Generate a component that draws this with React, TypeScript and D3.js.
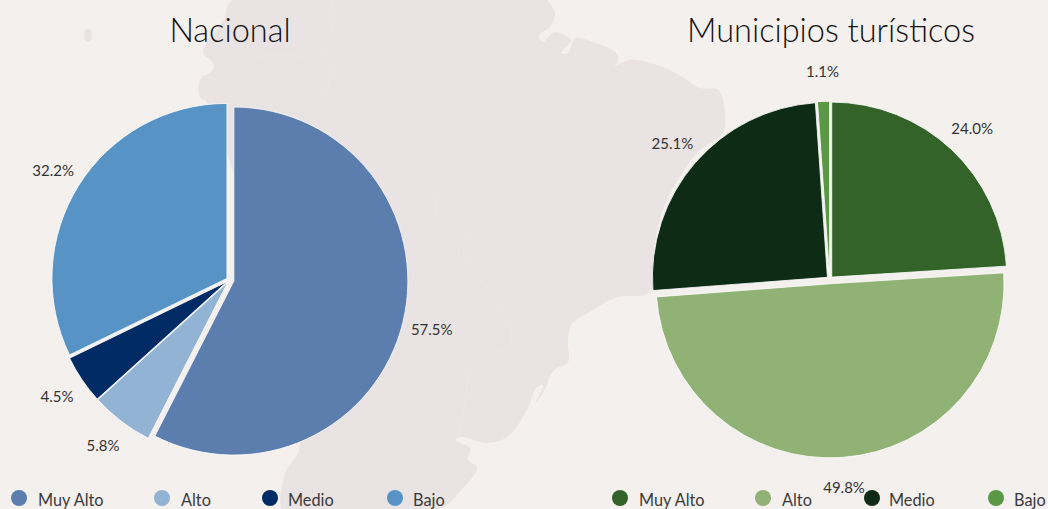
import React from "react";
import * as d3 from "d3";

const categories = ["Muy Alto", "Alto", "Medio", "Bajo"];
const nacionalValues = [57.5, 5.8, 4.5, 32.2];
const turisticosValues = [24.0, 49.8, 25.1, 1.1];
const nacionalColors = ["#5b7eae", "#93b3d4", "#002b64", "#5893c5"];
const turisticosColors = ["#336329", "#90b375", "#0e2c15", "#5a9845"];

const W = 1048;
const H = 509;
const BG = "#f4f0ee";
const LAND = "#e9e3e3";
const R = 175;
const EXPLODE = 3;
const BIG_R = 174;
const BIG_EXPLODE = 4.5;
const LABEL_R = 208;
const FONT = "Lato, 'Noto Sans', sans-serif";

const mapOutline: [number, number][] = [
  [240, -5], [228, 5], [225, 17], [217, 30], [207, 43], [203, 53], [213, 63], [213, 70], [200, 80], [200, 97], [207, 103],
  [300, 443], [284, 477], [285, 515], [430, 515], [464, 487], [477, 467], [468, 460], [470, 448], [455, 440], [461, 437],
  [486, 443], [507, 437], [527, 410], [536, 388], [543, 385], [536, 402], [543, 393], [554, 370], [568, 362], [568, 343],
  [571, 325], [593, 310], [618, 297], [645, 295], [653, 287], [654, 250], [664, 207], [682, 173], [700, 150], [723, 133],
  [725, 113], [718, 90], [700, 88], [679, 75], [657, 65], [629, 60], [614, 67], [618, 62], [616, 53], [593, 42], [575, 38],
  [568, 53], [561, 53], [571, 40], [554, 32], [543, 42], [539, 35], [550, 27], [555, 13], [543, -5],
];
const borderLines: [number, number][][] = [
  [[378, 143], [400, 173], [432, 190], [439, 217], [464, 227], [464, 257], [486, 287], [504, 310], [511, 343], [475, 363], [465, 400], [460, 437]],
  [[203, 75], [225, 85], [250, 60], [290, 55], [330, 70]],
  [[330, 0], [335, 20], [325, 45], [330, 70], [325, 100]],
];

const mapLine = d3.line().curve(d3.curveCatmullRom.alpha(0.5));

function Pie({ cx, cy, values, colors }: { cx: number; cy: number; values: number[]; colors: string[] }) {
  const arcs = d3.pie<number>().sort(null)(values);
  const largest = d3.max(values) as number;
  const arc = d3.arc<d3.PieArcDatum<number>>().innerRadius(0);
  return (
    <g>
      {arcs.map((a, i) => {
        const mid = (a.startAngle + a.endAngle) / 2;
        const big = values[i] === largest;
        const e = big ? BIG_EXPLODE : EXPLODE;
        const dx = Math.sin(mid) * e;
        const dy = -Math.cos(mid) * e;
        return (
          <path
            key={i}
            d={arc.outerRadius(big ? BIG_R : R)(a) as string}
            transform={`translate(${cx + dx},${cy + dy})`}
            fill={colors[i]}
            stroke="#ffffff"
            strokeWidth={0.8}
          />
        );
      })}
      {arcs.map((a, i) => {
        const mid = (a.startAngle + a.endAngle) / 2;
        return (
          <text
            key={i}
            x={cx + Math.sin(mid) * LABEL_R}
            y={cy - Math.cos(mid) * LABEL_R}
            textAnchor="middle"
            dominantBaseline="central"
            fontSize={15}
            fontFamily={FONT}
            fill="#333333"
          >
            {values[i].toFixed(1)}%
          </text>
        );
      })}
    </g>
  );
}

function Legend({ circleX, textX, colors }: { circleX: number[]; textX: number[]; colors: string[] }) {
  return (
    <g>
      {categories.map((c, i) => (
        <g key={c}>
          <circle cx={circleX[i]} cy={498} r={8} fill={colors[i]} />
          <text x={textX[i]} y={506} fontSize={16.3} fontFamily={FONT} fill="#3a3a3a">
            {c}
          </text>
        </g>
      ))}
    </g>
  );
}

export default function App() {
  return (
    <svg width={W} height={H} viewBox={`0 0 ${W} ${H}`} style={{ position: "fixed", left: 0, top: 0, display: "block" }}>
      <rect width={W} height={H} fill={BG} />
      <path d={mapLine(mapOutline) as string} fill={LAND} />
      <ellipse cx={88} cy={35} rx={4} ry={7} fill={LAND} />
      {borderLines.map((b, i) => (
        <path key={i} d={mapLine(b) as string} fill="none" stroke="#ece8e7" strokeWidth={1} />
      ))}
      <text x={230} y={42} textAnchor="middle" fontSize={32.5} fontWeight={300} fontFamily={FONT} fill="#111111">
        Nacional
      </text>
      <text x={831} y={42} textAnchor="middle" fontSize={32.5} fontWeight={300} fontFamily={FONT} fill="#111111">
        Municipios turísticos
      </text>
      <Pie cx={229.5} cy={280} values={nacionalValues} colors={nacionalColors} />
      <Pie cx={829.7} cy={279.3} values={turisticosValues} colors={turisticosColors} />
      <Legend circleX={[19, 162, 270, 395]} textX={[38, 181, 288, 413]} colors={nacionalColors} />
      <Legend circleX={[620, 763, 872, 996]} textX={[639, 782, 889, 1014]} colors={turisticosColors} />
    </svg>
  );
}
